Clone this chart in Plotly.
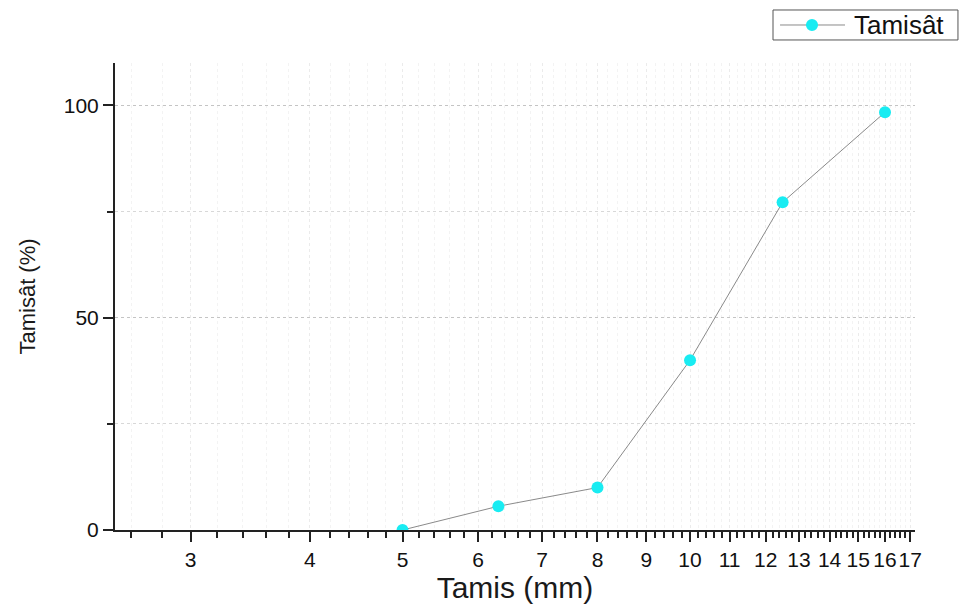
import numpy as np
import plotly.graph_objects as go

# Sieve analysis: cumulative passing vs sieve opening
tamis_mm = [5, 6.3, 8, 10, 12.5, 16]
tamisat_pct = [0, 5.6, 10, 40, 77.2, 98.4]

x_tick_vals = list(range(3, 18))
x_tick_text = [str(v) for v in x_tick_vals]
y_tick_vals = [0, 50, 100]

series_name = "Tamisât"
line_color = "#8a8a8a"
marker_color = "#19ecf2"

# minor ticks every 0.2 mm
minor_x = [round(v, 1) for v in np.arange(2.6, 17.2, 0.2) if abs(v - round(v)) > 1e-6]

font_family = "Liberation Sans, Arial, sans-serif"

fig = go.Figure()
fig.add_trace(go.Scatter(
    x=tamis_mm,
    y=tamisat_pct,
    mode="lines+markers",
    name=series_name,
    showlegend=False,
    line=dict(color=line_color, width=1),
    marker=dict(color=marker_color, size=12, line=dict(width=0)),
))

# Boxed legend in the upper-right corner (paper coordinates)
legend_shapes = [
    dict(type="rect", xref="paper", yref="paper",
         x0=0.8225, x1=1.0537, y0=1.0493, y1=1.1135,
         line=dict(color="#555555", width=1), fillcolor="white"),
    dict(type="line", xref="paper", yref="paper",
         x0=0.8313, x1=0.9125, y0=1.0814, y1=1.0814,
         line=dict(color=line_color, width=1)),
    dict(type="circle", xref="paper", yref="paper",
         x0=0.8637, x1=0.8788, y0=1.0685, y1=1.0942,
         line=dict(width=0), fillcolor=marker_color),
]

fig.update_layout(
    width=962,
    height=606,
    margin=dict(l=115, r=47, t=63, b=76),
    paper_bgcolor="white",
    plot_bgcolor="white",
    font=dict(family=font_family, color="#1a1a1a"),
    showlegend=False,
    shapes=legend_shapes,
    annotations=[dict(
        text=series_name, xref="paper", yref="paper",
        x=0.9213, y=1.0814, xanchor="left", yanchor="middle",
        showarrow=False, font=dict(size=26, color="#111111"),
    )],
    xaxis=dict(
        type="log",
        range=[np.log10(2.5), np.log10(17.2)],
        tickmode="array",
        tickvals=x_tick_vals,
        ticktext=x_tick_text,
        tickangle=0,
        ticks="outside",
        ticklen=10,
        tickwidth=2,
        tickcolor="#222222",
        tickfont=dict(size=21, color="#111111"),
        showline=True,
        linecolor="#222222",
        linewidth=2,
        showgrid=True,
        gridcolor="#ebebeb",
        griddash="dot",
        gridwidth=1,
        zeroline=False,
        automargin=False,
        minor=dict(
            tickmode="array",
            tickvals=minor_x,
            ticks="outside",
            ticklen=6,
            tickwidth=1.5,
            tickcolor="#222222",
            showgrid=True,
            gridcolor="#f3f3f3",
            griddash="dot",
        ),
        title=dict(text="Tamis (mm)", font=dict(size=30), standoff=4),
    ),
    yaxis=dict(
        range=[0, 110],
        tickmode="array",
        tickvals=y_tick_vals,
        ticks="outside",
        ticklen=10,
        tickwidth=2,
        tickcolor="#222222",
        tickfont=dict(size=21, color="#111111"),
        showline=True,
        linecolor="#222222",
        linewidth=2,
        showgrid=True,
        gridcolor="#c4c4c4",
        griddash="dot",
        zeroline=False,
        automargin=False,
        minor=dict(
            tickmode="array",
            tickvals=[25, 75],
            ticks="outside",
            ticklen=6,
            tickwidth=1.5,
            tickcolor="#222222",
            showgrid=True,
            gridcolor="#d8d8d8",
            griddash="dot",
        ),
        title=dict(text="Tamisât (%)", font=dict(size=22), standoff=22),
    ),
)

fig.write_html("out.html")
